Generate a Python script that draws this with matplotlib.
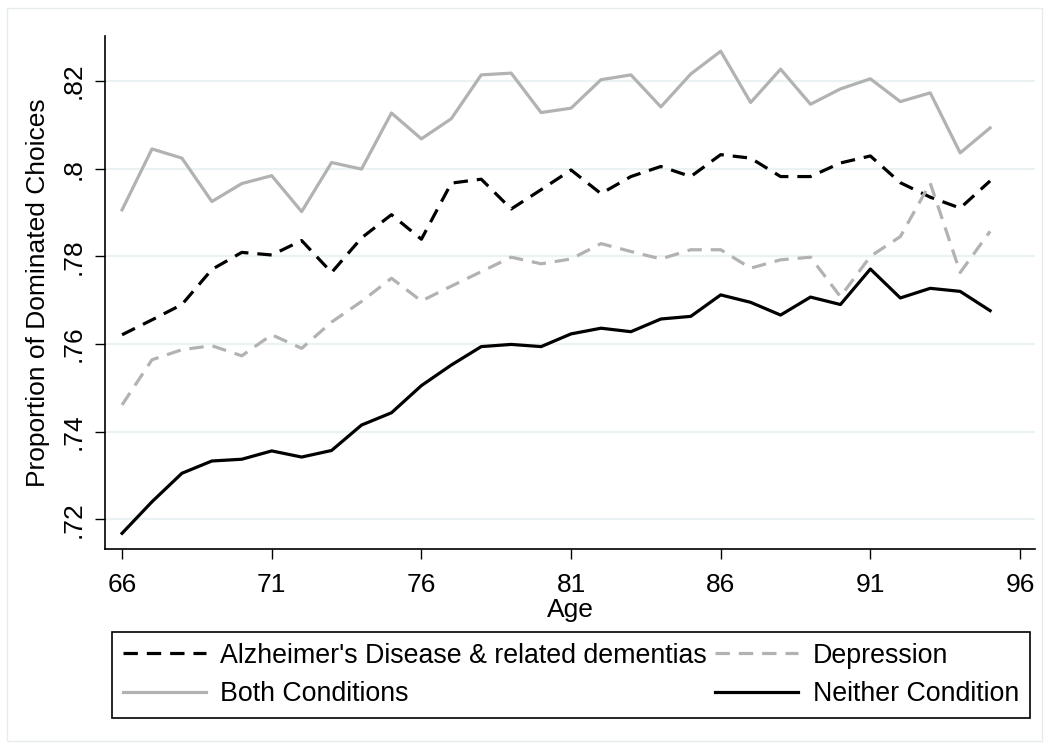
"""
Dominated choices by age and condition
"""
# Standard matplotlib import
import matplotlib

matplotlib.use('Agg')
from matplotlib import pyplot as plt
from matplotlib.patches import Rectangle

plt.rcParams['font.family'] = ['Liberation Sans', 'DejaVu Sans']

# Ages on the x axis
ages = list(range(66, 96))

# Proportion of dominated choices
alzheimers = [0.7621, 0.7655, 0.7690, 0.7770, 0.7809, 0.7803, 0.7836, 0.7763, 0.7842, 0.7895,
              0.7839, 0.7967, 0.7976, 0.7908, 0.7952, 0.7997, 0.7943, 0.7982, 0.8005, 0.7982,
              0.8032, 0.8024, 0.7982, 0.7982, 0.8013, 0.8029, 0.7968, 0.7935, 0.7910, 0.7972]
depression = [0.7461, 0.7564, 0.7587, 0.7596, 0.7573, 0.7621, 0.7590, 0.7650, 0.7697, 0.7750,
              0.7698, 0.7732, 0.7765, 0.7798, 0.7783, 0.7794, 0.7829, 0.7811, 0.7794, 0.7815,
              0.7815, 0.7773, 0.7792, 0.7798, 0.7708, 0.7800, 0.7845, 0.7967, 0.7763, 0.7857]
both = [0.7906, 0.8045, 0.8024, 0.7925, 0.7966, 0.7984, 0.7902, 0.8014, 0.7999, 0.8127,
        0.8068, 0.8114, 0.8214, 0.8218, 0.8128, 0.8138, 0.8203, 0.8214, 0.8141, 0.8216,
        0.8268, 0.8151, 0.8227, 0.8147, 0.8182, 0.8205, 0.8153, 0.8173, 0.8036, 0.8093]
neither = [0.7168, 0.7240, 0.7305, 0.7333, 0.7337, 0.7356, 0.7342, 0.7357, 0.7415, 0.7443,
           0.7505, 0.7552, 0.7594, 0.7599, 0.7594, 0.7623, 0.7636, 0.7628, 0.7657, 0.7663,
           0.7712, 0.7695, 0.7666, 0.7707, 0.7690, 0.7771, 0.7705, 0.7727, 0.7720, 0.7676]

xticks = [66, 71, 76, 81, 86, 91, 96]
yticks = [0.72, 0.74, 0.76, 0.78, 0.80, 0.82]
ytick_labels = ['.72', '.74', '.76', '.78', '.8', '.82']

gray = '#b2b2b2'
grid_color = '#eaf2f3'
fs = 19

fig = plt.figure(figsize=(10.5, 7.49), dpi=100)
fig.patches.append(Rectangle((7 / 1050, 8 / 749), 1035 / 1050, 733 / 749,
                             transform=fig.transFigure, fill=False,
                             edgecolor='#e6ecee', linewidth=1))

ax = fig.add_axes([105 / 1050, 1 - 549 / 749, 930 / 1050, 513 / 749])

# the four series
l1, = ax.plot(ages, alzheimers, color='black', lw=2.3, dashes=(4.5, 2.8),
              label="Alzheimer's Disease & related dementias")
l3, = ax.plot(ages, depression, color=gray, lw=2.3, dashes=(4.5, 2.8),
              label='Depression')
l2, = ax.plot(ages, both, color=gray, lw=2.3, label='Both Conditions')
l4, = ax.plot(ages, neither, color='black', lw=2.3, label='Neither Condition')

ax.set_xlim(65.43, 96.5)
ax.set_ylim(0.71322, 0.83027)

ax.set_xticks(xticks)
ax.set_yticks(yticks)
ax.set_yticklabels(ytick_labels, rotation=90, va='center')
ax.tick_params(axis='both', length=7, width=1, labelsize=fs, color='black')
ax.tick_params(axis='x', pad=10)
ax.tick_params(axis='y', pad=7)

ax.grid(axis='y', color=grid_color, lw=1.6)
ax.set_axisbelow(True)
for side in ['top', 'right']:
  ax.spines[side].set_visible(False)
for side in ['left', 'bottom']:
  ax.spines[side].set_linewidth(1.2)

ax.set_xlabel('Age', fontsize=fs, labelpad=1)
ax.set_ylabel('Proportion of Dominated Choices', fontsize=fs, labelpad=8)

# legend in two columns below the plot
leg = fig.legend(handles=[l1, l2, l3, l4], ncol=2, loc='center',
                 bbox_to_anchor=(571 / 1050, 1 - 675 / 749),
                 fontsize=19.3, handlelength=3.1, handletextpad=0.55,
                 columnspacing=0.3, labelspacing=0.48, borderpad=0.4,
                 borderaxespad=0, fancybox=False, framealpha=1, edgecolor='black')
leg.get_frame().set_linewidth(1.2)

plt.savefig('out.png', dpi=100)
